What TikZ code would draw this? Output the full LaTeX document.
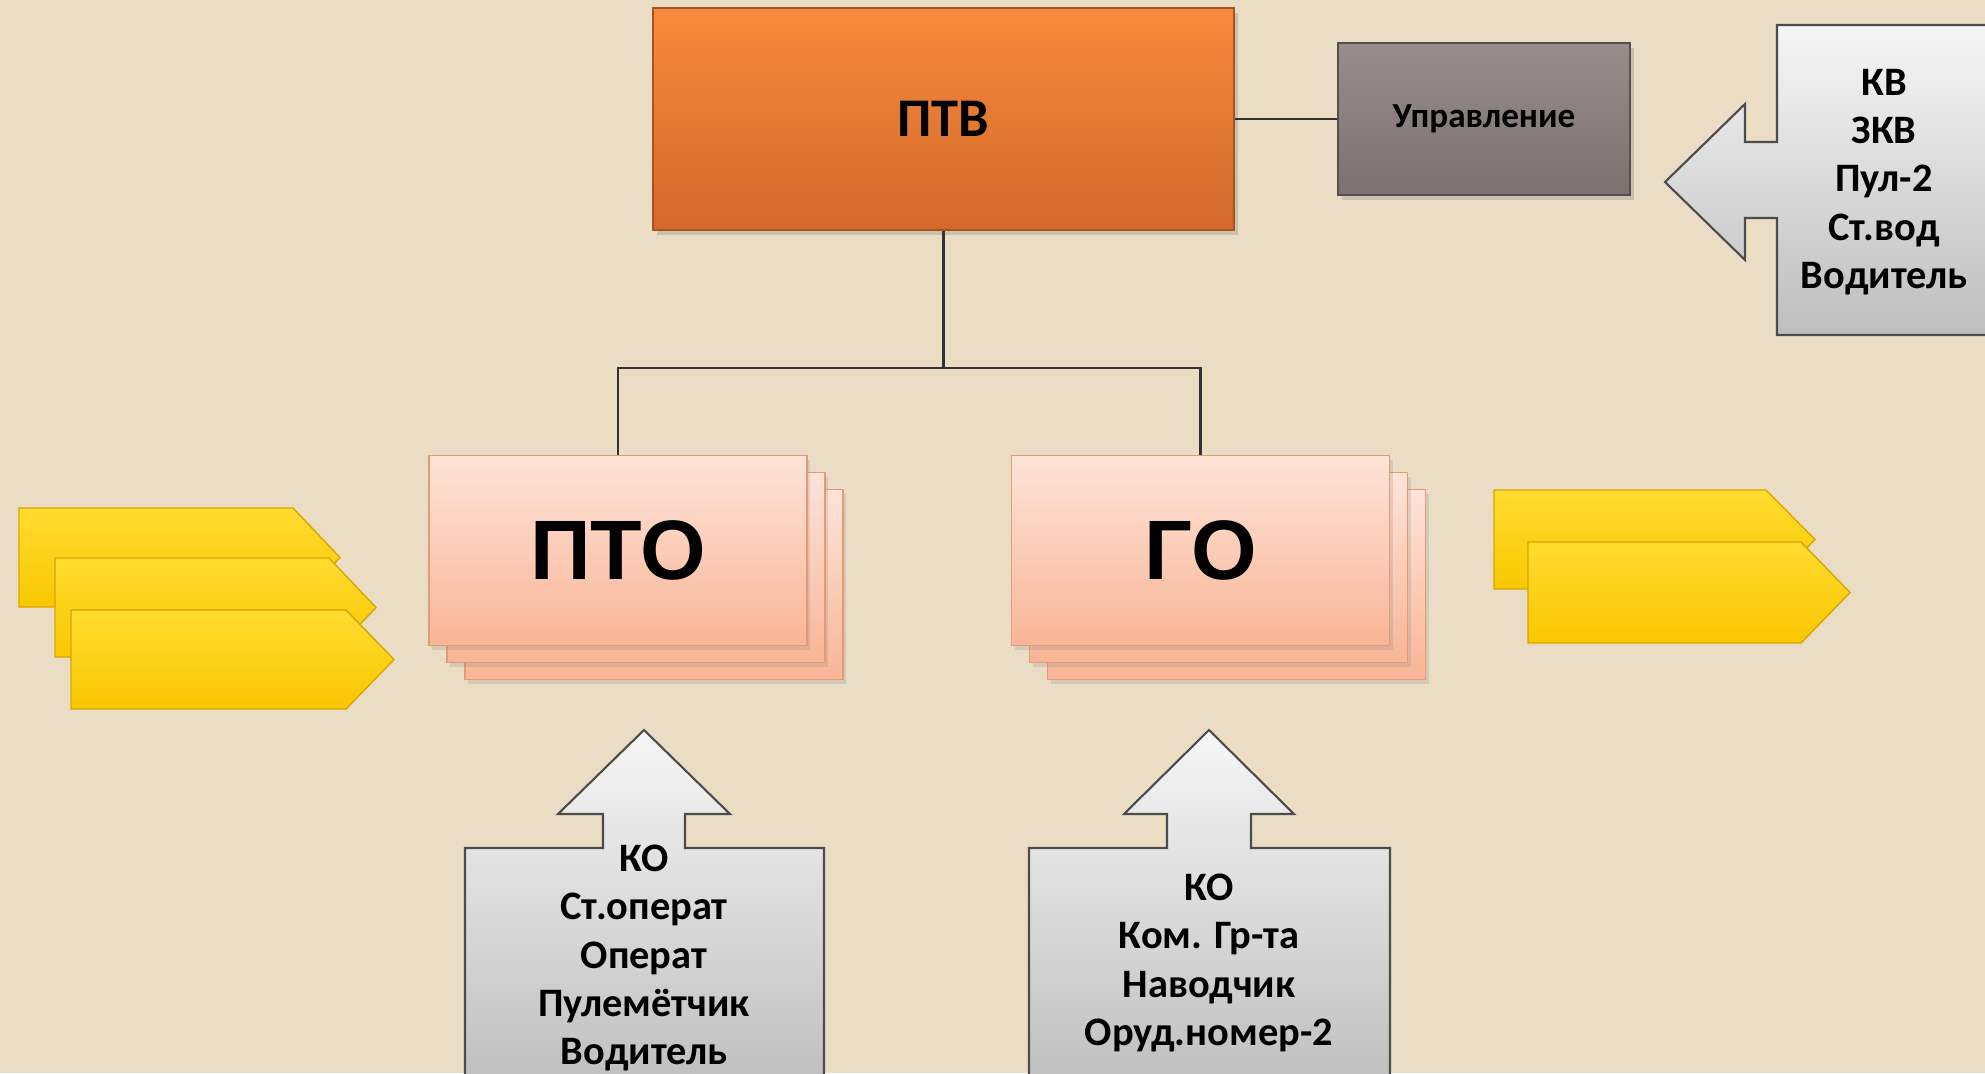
\documentclass[tikz,border=0pt]{standalone}
\usepackage{fontspec}
\setmainfont{Carlito}
\newfontfamily\arialfont{Liberation Sans}
\usetikzlibrary{positioning,shadows}

\definecolor{bg}{HTML}{EADDC3}
\definecolor{ptvtop}{HTML}{F88A3C}
\definecolor{ptvbot}{HTML}{D2692A}
\definecolor{grtop}{HTML}{978D8C}
\definecolor{grbot}{HTML}{7A7170}
\definecolor{pinktop}{HTML}{FEE4D8}
\definecolor{pinkbot}{HTML}{F8B596}
\definecolor{pinkline}{HTML}{E39A79}
\definecolor{yeltop}{HTML}{FFDC30}
\definecolor{yelbot}{HTML}{F9C700}
\definecolor{yelline}{HTML}{D8A600}
\definecolor{calltop}{HTML}{F6F6F6}
\definecolor{callbot}{HTML}{BEBEBE}

\begin{document}
\begin{tikzpicture}[on grid,
    chief/.style={rectangle, draw=ptvbot!80!black, top color=ptvtop, bottom color=ptvbot,
      minimum width=5.81cm, minimum height=2.22cm,
      drop shadow={shadow xshift=0.04cm, shadow yshift=-0.05cm, opacity=0.3},
      font=\bfseries\fontsize{15.5}{18}\selectfont},
    staff/.style={rectangle, draw=grbot!70!black, top color=grtop, bottom color=grbot,
      minimum width=2.92cm, minimum height=1.52cm,
      drop shadow={shadow xshift=0.04cm, shadow yshift=-0.05cm, opacity=0.3},
      font=\bfseries\fontsize{10}{12}\selectfont},
    platoon/.style={rectangle, draw=pinkline, top color=pinktop, bottom color=pinkbot,
      minimum width=3.78cm, minimum height=1.9cm,
      drop shadow={shadow xshift=0.03cm, shadow yshift=-0.04cm, opacity=0.2},
      font=\arialfont\bfseries\fontsize{24}{28}\selectfont},
    crew/.style={align=center, font=\bfseries\fontsize{11.5}{13.7}\selectfont},
    callout/.style={draw=black!70, line width=0.6pt, top color=calltop, bottom color=callbot},
    wedge/.style={draw=yelline, line width=0.4pt, top color=yeltop, bottom color=yelbot},
    link/.style={draw=black!80, line width=0.6pt}]

  \useasboundingbox (0,0) rectangle (19.85,-10.73);
  \fill[bg] (0,0) rectangle (19.85,-10.73);
  \clip (0,0) rectangle (19.85,-10.73);

  % headquarters
  \node[chief] (ptv)                                  at (9.435,-1.19) {ПТВ};
  \node[staff] (upr)  [right=5.405cm of ptv]          {Управление};
  \node[coordinate] (fork) [below=2.49cm of ptv]      {};

  % platoons, three sheets each
  \node[platoon] (pto3)                               at (6.54,-5.845) {};
  \node[platoon] (pto2) [above left=0.17cm and 0.18cm of pto3] {};
  \node[platoon] (pto)  [above left=0.17cm and 0.18cm of pto2] {ПТО};
  \node[platoon] (go3)                                at (12.365,-5.845) {};
  \node[platoon] (go2)  [above left=0.17cm and 0.18cm of go3] {};
  \node[platoon] (go)   [above left=0.17cm and 0.18cm of go2] {ГО};

  \draw[link] (ptv) -- (upr);
  \draw[link] (ptv) -- (fork);
  \draw[link] (fork) -| (pto);
  \draw[link] (fork) -| (go);

  % yellow arrows
  \path[wedge] (0.19,-5.08) -- ++(2.74,0) -- ++(0.47,-0.495) -- ++(-0.47,-0.495) -- ++(-2.74,0) -- cycle;
  \path[wedge] (0.55,-5.58) -- ++(2.74,0) -- ++(0.47,-0.495) -- ++(-0.47,-0.495) -- ++(-2.74,0) -- cycle;
  \path[wedge] (0.71,-6.10) -- ++(2.75,0) -- ++(0.48,-0.495) -- ++(-0.48,-0.495) -- ++(-2.75,0) -- cycle;
  \path[wedge] (14.94,-4.90) -- ++(2.72,0) -- ++(0.49,-0.495) -- ++(-0.49,-0.495) -- ++(-2.72,0) -- cycle;
  \path[wedge] (15.28,-5.42) -- ++(2.73,0) -- ++(0.49,-0.505) -- ++(-0.49,-0.505) -- ++(-2.73,0) -- cycle;

  % callouts with crews
  \path[callout] (17.77,-0.25) -- (20.1,-0.25) -- (20.1,-3.35) -- (17.77,-3.35) -- (17.77,-2.18)
    -- (17.45,-2.18) -- (17.45,-2.60) -- (16.65,-1.82) -- (17.45,-1.04) -- (17.45,-1.42) -- (17.77,-1.42) -- cycle;
  \node[crew] (hqcrew) at (18.84,-1.82) {КВ\\ЗКВ\\Пул-2\\Ст.вод\\Водитель};

  \path[callout] (4.65,-10.9) -- (4.65,-8.48) -- (6.03,-8.48) -- (6.03,-8.14) -- (5.58,-8.14) -- (6.44,-7.30)
    -- (7.30,-8.14) -- (6.85,-8.14) -- (6.85,-8.48) -- (8.24,-8.48) -- (8.24,-10.9) -- cycle;
  \node[crew] (ptocrew) at (6.44,-9.58) {КО\\Ст.операт\\Операт\\Пулемётчик\\Водитель};

  \path[callout] (10.29,-10.9) -- (10.29,-8.48) -- (11.67,-8.48) -- (11.67,-8.14) -- (11.24,-8.14) -- (12.09,-7.30)
    -- (12.94,-8.14) -- (12.51,-8.14) -- (12.51,-8.48) -- (13.90,-8.48) -- (13.90,-10.9) -- cycle;
  \node[crew] (gocrew) at (12.09,-9.63) {КО\\Ком. Гр-та\\Наводчик\\Оруд.номер-2};
\end{tikzpicture}
\end{document}
